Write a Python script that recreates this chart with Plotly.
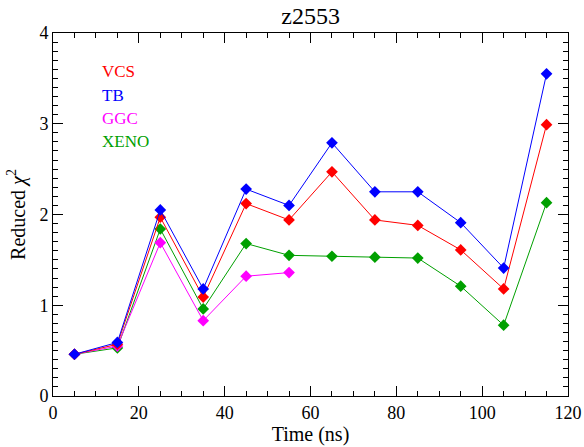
import plotly.graph_objects as go

time_ns = [5, 15, 25, 35, 45, 55, 65, 75, 85, 95, 105, 115]
vcs = [0.46, 0.57, 1.97, 1.09, 2.12, 1.94, 2.47, 1.94, 1.88, 1.61, 1.18, 2.99]
tb = [0.46, 0.59, 2.05, 1.18, 2.28, 2.10, 2.79, 2.25, 2.25, 1.91, 1.41, 3.55]
ggc_time = [5, 15, 25, 35, 45, 55]
ggc = [0.46, 0.55, 1.69, 0.83, 1.32, 1.36]
xeno = [0.46, 0.53, 1.84, 0.96, 1.68, 1.55, 1.54, 1.53, 1.52, 1.21, 0.78, 2.13]

series_names = ["VCS", "TB", "GGC", "XENO"]
series_colors = ["#ff0000", "#0000ff", "#ff00ff", "#00a000"]

x_major = [0, 20, 40, 60, 80, 100, 120]
x_minor = [v for v in range(0, 121, 5) if v % 20 != 0]
y_major = [0, 1, 2, 3, 4]
y_minor = [round(k / 10, 1) for k in range(0, 41) if k % 10 != 0]

FONT = "Liberation Serif, serif"

fig = go.Figure()
order = [("XENO", time_ns, xeno), ("GGC", ggc_time, ggc), ("VCS", time_ns, vcs), ("TB", time_ns, tb)]
for name, xs, ys in order:
    c = series_colors[series_names.index(name)]
    fig.add_trace(go.Scatter(
        x=xs, y=ys, mode="lines+markers", name=name,
        line=dict(color=c, width=1),
        marker=dict(symbol="diamond", size=9, color=c),
        showlegend=False,
    ))
# empty trace that carries the overlay axes used for the minor ticks
fig.add_trace(go.Scatter(x=[], y=[], xaxis="x2", yaxis="y2", showlegend=False, hoverinfo="skip"))

for i, (n, c) in enumerate(zip(series_names, series_colors)):
    fig.add_annotation(
        x=0.092, y=0.8926 - i * 0.0642, xref="paper", yref="paper",
        text=n, showarrow=False, xanchor="left", yanchor="middle",
        font=dict(family=FONT, size=17, color=c),
    )

axis_common = dict(
    showline=True, linecolor="black", linewidth=1, mirror="ticks",
    ticks="inside", ticklen=10, tickwidth=1, tickcolor="black",
    showgrid=False, zeroline=False, automargin=False,
    tickfont=dict(family=FONT, size=18, color="black"),
)
minor_common = dict(
    showline=False, mirror="ticks", ticks="inside", ticklen=5, tickwidth=1,
    tickcolor="black", showgrid=False, zeroline=False, showticklabels=False,
    automargin=False,
)

fig.update_layout(
    xaxis=dict(range=[0, 120], tickvals=x_major,
               title=dict(text="Time (ns)", font=dict(family=FONT, size=20, color="black"), standoff=2),
               **axis_common),
    yaxis=dict(range=[0, 4], tickvals=y_major,
               title=dict(text="Reduced <i>χ</i><sup>2</sup>", font=dict(family=FONT, size=20, color="black"), standoff=8),
               **axis_common),
    xaxis2=dict(range=[0, 120], tickvals=x_minor, overlaying="x", anchor="y", side="bottom", **minor_common),
    yaxis2=dict(range=[0, 4], tickvals=y_minor, overlaying="y", anchor="x", side="left", **minor_common),
    width=584, height=447,
    margin=dict(l=53, r=16, t=33, b=51, autoexpand=False),
    paper_bgcolor="white", plot_bgcolor="white",
    title=dict(text="z2553", x=0.532, xanchor="center", y=0.965, yanchor="middle",
               font=dict(family=FONT, size=24, color="black"), automargin=False),
)

fig.write_html("out.html", config={"displayModeBar": False},
               post_script="document.body.style.margin='0';document.body.style.overflow='hidden';")
